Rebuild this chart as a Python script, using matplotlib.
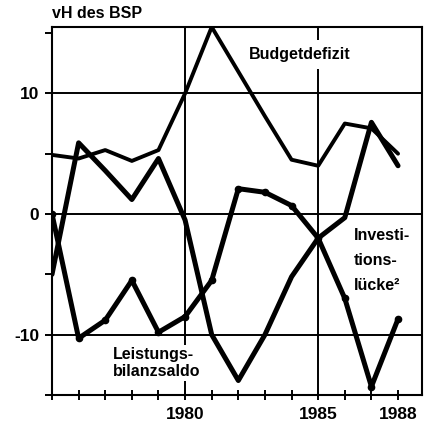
import numpy as np
import matplotlib
matplotlib.use("Agg")
import matplotlib.pyplot as plt

plt.rcParams['font.family'] = ['Liberation Sans', 'DejaVu Sans']
plt.rcParams['font.weight'] = 'bold'

# Data (vH des BSP)
years = np.arange(1975, 1989)
budgetdefizit = [4.9, 4.6, 5.3, 4.4, 5.3, 10.0, 15.5, 11.8, 8.1, 4.5, 4.0, 7.5, 7.1, 5.0]
investitionsluecke = [-5.0, 5.9, 3.6, 1.2, 4.6, -0.5, -10.0, -13.8, -10.0, -5.2, -2.0, -0.3, 7.6, 4.0]
leistungsbilanz = [0.0, -10.3, -8.8, -5.5, -9.8, -8.5, -5.5, 2.1, 1.8, 0.7, -2.0, -7.0, -14.3, -8.7]

x_labels = {1980: "1980", 1985: "1985", 1988: "1988"}
y_labels = {-10: "-10", 0: "0", 10: "10"}

fig = plt.figure(figsize=(4.24, 4.24), dpi=100)
ax = fig.add_axes([52/424, 29/424, 370/424, 368/424])

# Grid lines
for v in [-10, 0, 10]:
    ax.axhline(v, color='black', lw=1.4, zorder=1)
for yr in [1980, 1985]:
    ax.axvline(yr, color='black', lw=1.4, zorder=1)

line_kw = dict(color='black', solid_capstyle='round', solid_joinstyle='round', zorder=3)
ax.plot(years, budgetdefizit, lw=2.8, **line_kw)
ax.plot(years, investitionsluecke, lw=3.6, **line_kw)
ax.plot(years, leistungsbilanz, lw=3.6, marker='o', ms=4.5, **line_kw)

ax.set_xlim(1975, 1988.9)
ax.set_ylim(-15, 15.5)

ax.set_xticks(years)
ax.set_xticklabels([x_labels.get(y, "") for y in years])
ax.set_yticks(np.arange(-15, 16, 5))
ax.set_yticklabels([y_labels.get(v, "") for v in np.arange(-15, 16, 5)])
ax.tick_params(axis='x', direction='inout', length=7, width=1.4, pad=5, labelsize=12.5)
ax.tick_params(axis='y', direction='out', length=5, width=1.4, pad=4, labelsize=12.5)
for s in ax.spines.values():
    s.set_linewidth(1.5)

box = dict(facecolor='white', edgecolor='none', pad=5)
ax.text(1984.3, 13.2, "Budgetdefizit", ha='center', va='center', fontsize=11.5,
        bbox=box, zorder=2)
ax.text(1977.3, -11.05, "Leistungs-\nbilanzsaldo", ha='left', va='top', fontsize=11.5,
        linespacing=1.15, bbox=dict(facecolor='white', edgecolor='none', pad=1.5), zorder=2)
ax.text(1986.35, -1.15, "Investi-\ntions-\nlücke²", ha='left', va='top', fontsize=11.5,
        linespacing=1.85, zorder=2)

fig.text(52/424, 1 - 13/424, "vH des BSP", ha='left', va='center', fontsize=11.5)

fig.savefig("out.png", dpi=100)
